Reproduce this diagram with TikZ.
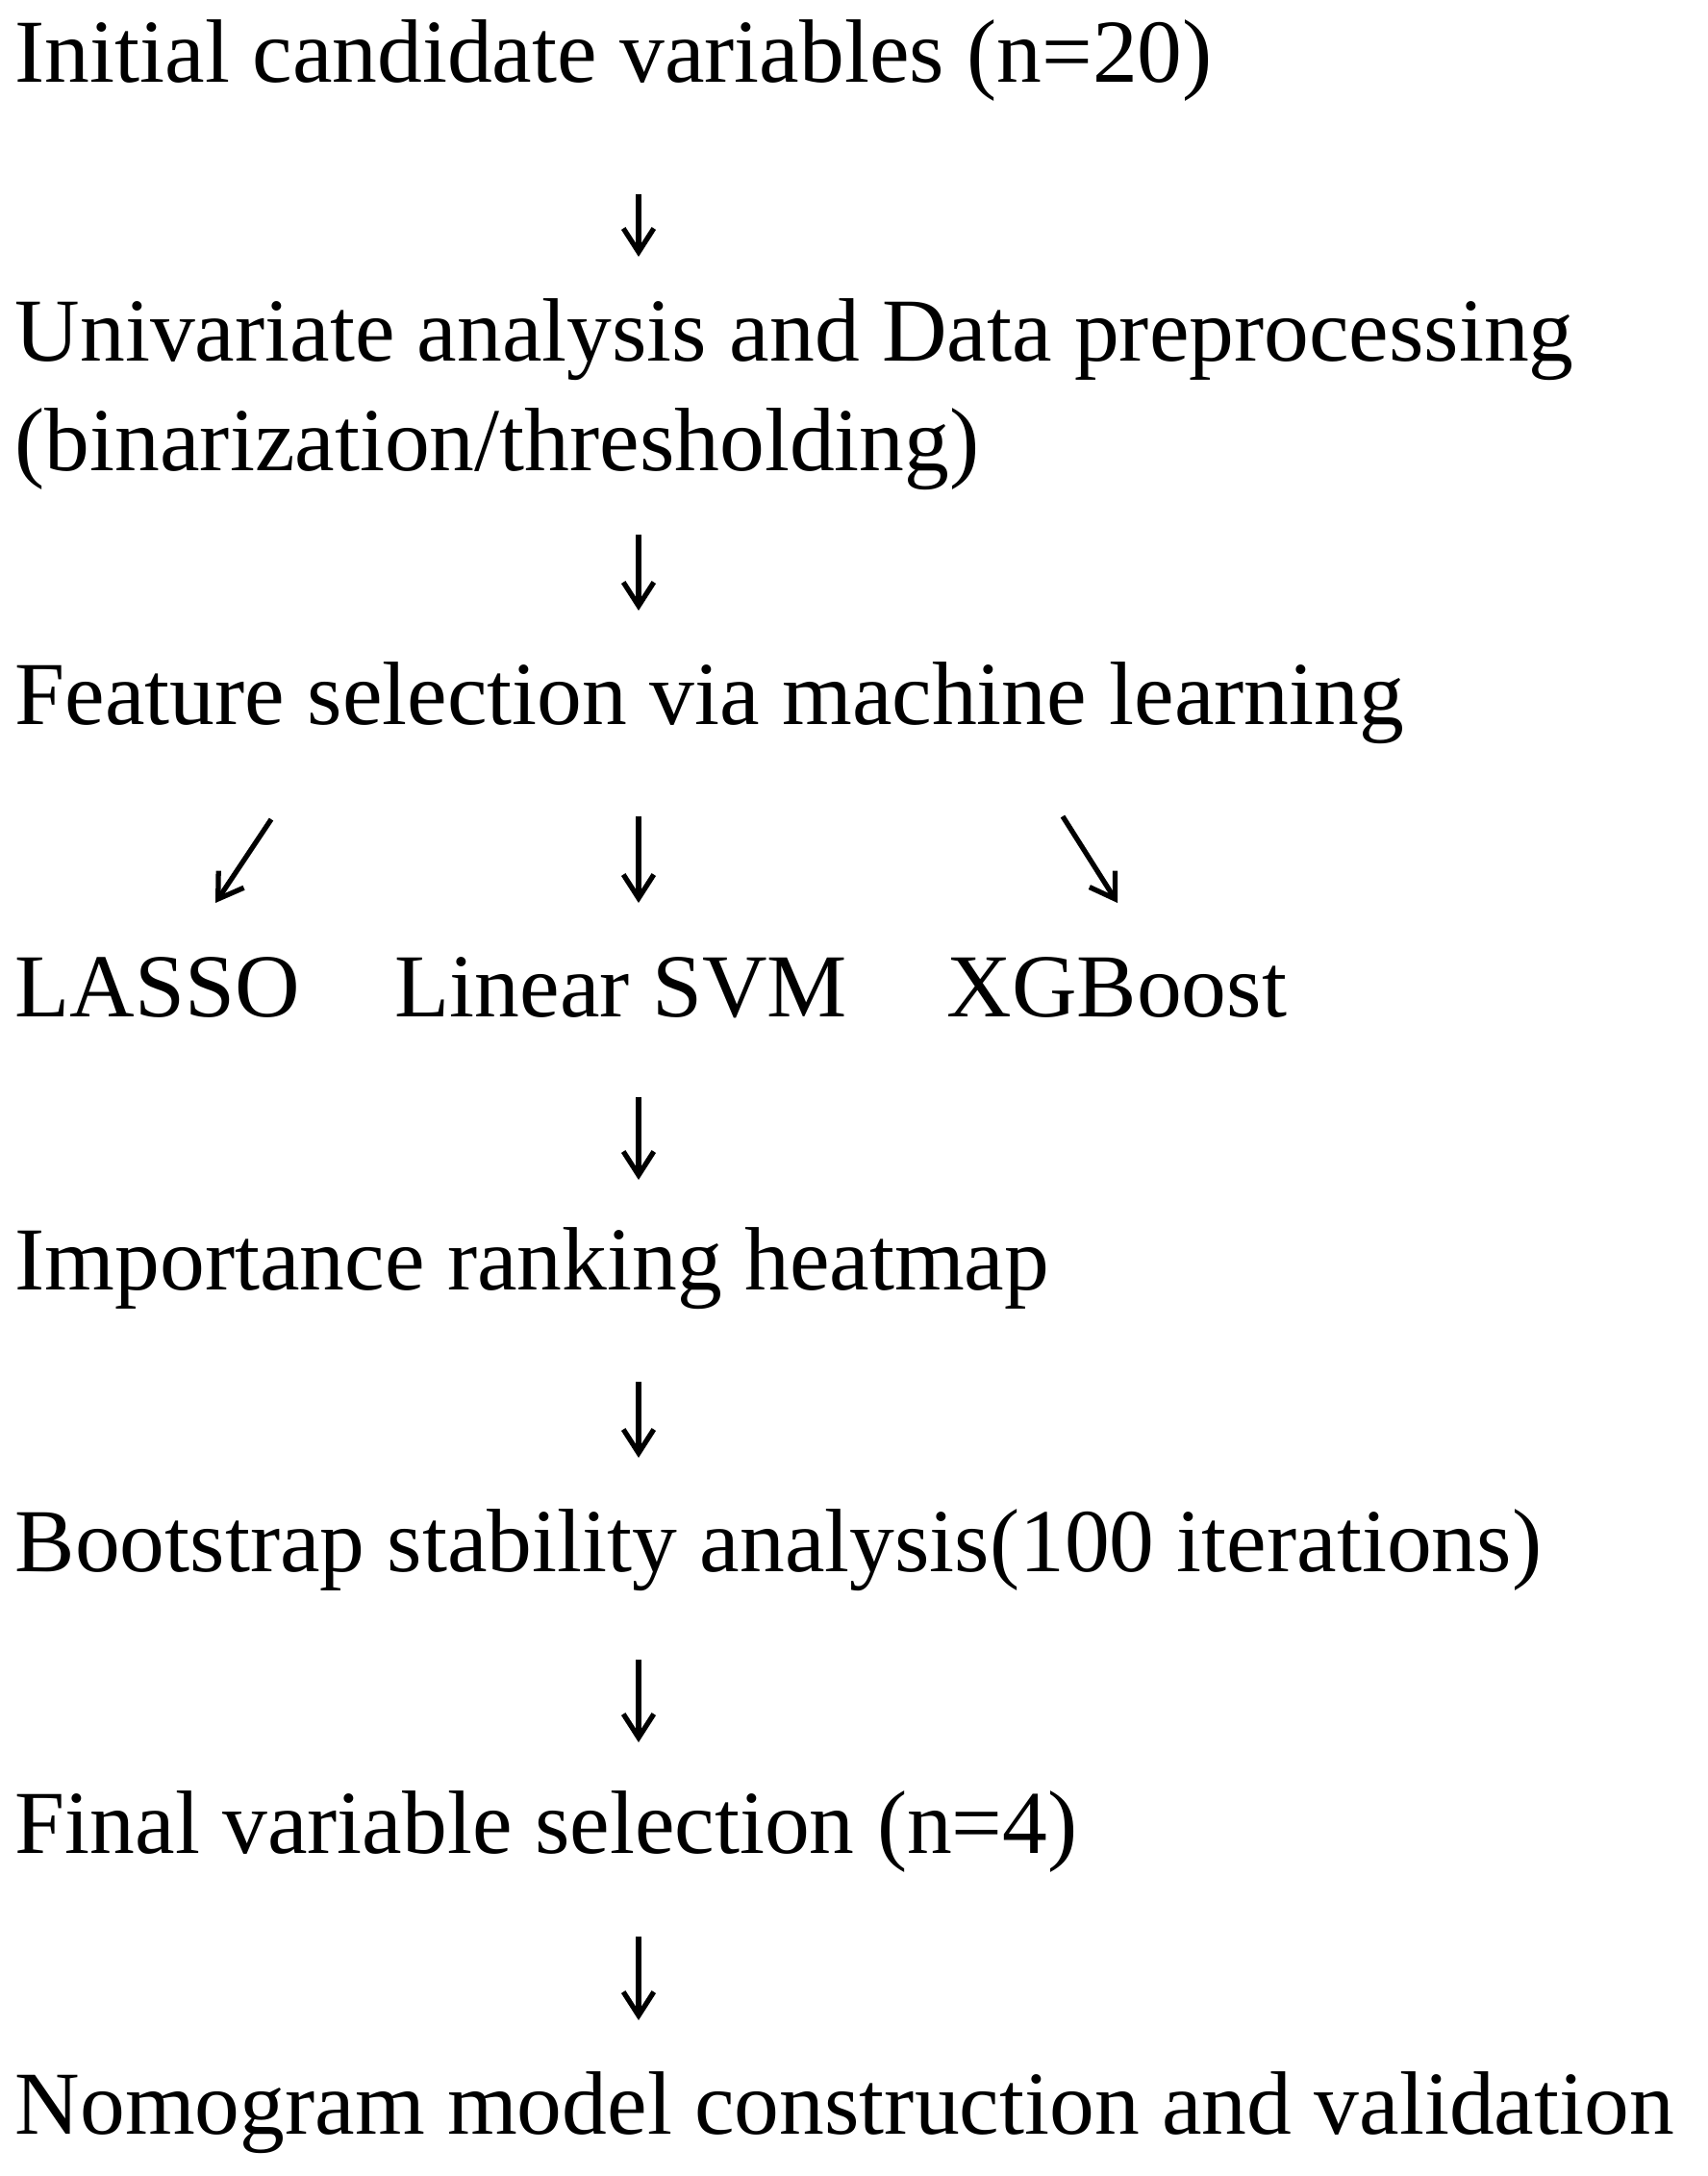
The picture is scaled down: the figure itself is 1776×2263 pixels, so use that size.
\documentclass[tikz,border=0pt]{standalone}
\usepackage{fontspec}
\setmainfont{Liberation Serif}
\usetikzlibrary{arrows.meta,positioning}
\tikzset{
  stage/.style={anchor=west, inner sep=0pt, align=left, font=\fontsize{26.6}{32.5}\selectfont},
  flow/.style={line width=1.5pt, -{Straight Barb[length=7pt,width=9pt,line width=1.5pt]}}
}
\begin{document}
\begin{tikzpicture}[x=0.01cm,y=-0.01cm]
  \useasboundingbox (0,0) rectangle (1776,2263);
  % stages
  \node [stage] (init)  at (15,63)   {Initial candidate variables (n=20)};
  \node [stage] (prep)  at (15,410)  {Univariate analysis and Data preprocessing\\(binarization/thresholding)};
  \node [stage] (feat)  at (15,731)  {Feature selection via machine learning};
  \node [stage] (lasso) at (15,1027) {LASSO};
  \node [stage] (svm)   at (410,1027) {Linear SVM};
  \node [stage] (xgb)   at (984,1027) {XGBoost};
  \node [stage] (heat)  at (15,1319) {Importance ranking heatmap};
  \node [stage] (boot)  at (15,1612) {Bootstrap stability analysis(100 iterations)};
  \node [stage] (final) at (15,1905) {Final variable selection (n=4)};
  \node [stage] (nomo)  at (15,2197) {Nomogram model construction and validation};
  % arrow ends
  \coordinate (a1) at (664,202);  \coordinate (b1) at (664,267);
  \coordinate (a2) at (664,556);  \coordinate (b2) at (664,635);
  \coordinate (a3) at (282,852);  \coordinate (b3) at (224,939);
  \coordinate (a4) at (664,849);  \coordinate (b4) at (664,939);
  \coordinate (a5) at (1105,849); \coordinate (b5) at (1162,939);
  \coordinate (a6) at (664,1141); \coordinate (b6) at (664,1227);
  \coordinate (a7) at (664,1437); \coordinate (b7) at (664,1516);
  \coordinate (a8) at (664,1726); \coordinate (b8) at (664,1812);
  \coordinate (a9) at (664,2014); \coordinate (b9) at (664,2101);
  \foreach \i in {1,...,9}
    \draw [flow] (a\i) -- (b\i);
\end{tikzpicture}
\end{document}
